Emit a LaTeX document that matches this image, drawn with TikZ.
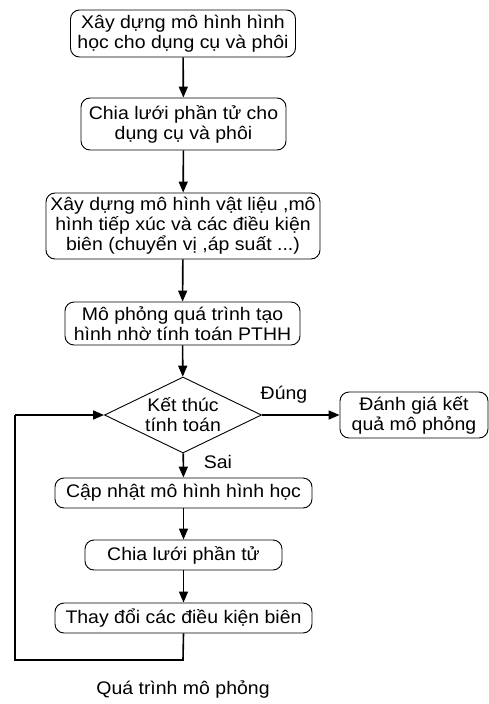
\documentclass[tikz,border=0pt]{standalone}
\usepackage{fontspec}
\setmainfont{Liberation Sans}[FakeStretch=1.07]
\usetikzlibrary{shapes.geometric,arrows.meta}
\begin{document}
\begin{tikzpicture}[x=1pt,y=-1pt,
  every node/.style={font=\fontsize{18.2}{20}\selectfont},
  stepbox/.style={draw,rounded corners=9pt,line width=0.9pt,align=center,inner sep=0pt},
  decision/.style={draw,diamond,line width=0.9pt,align=center,inner sep=0pt,aspect=2.07,minimum width=157pt,minimum height=76pt},
  conn/.style={line width=1.6pt,-{Triangle[length=11pt,width=9pt]}},
  plain/.style={line width=1.6pt}]
\useasboundingbox (0,0) rectangle (489,704);
\node[stepbox,minimum width=225pt,minimum height=47pt] (b1) at (183,33.5) {Xây dựng mô hình hình\\học cho dụng cụ và phôi};
\node[stepbox,minimum width=205pt,minimum height=52pt] (b2) at (183.5,124) {Chia lưới phần tử cho\\dụng cụ và phôi};
\node[stepbox,minimum width=274pt,minimum height=66pt] (b3) at (183,226) {Xây dựng mô hình vật liệu ,mô\\hình tiếp xúc và các điều kiện\\biên (chuyển vị ,áp suất ...)};
\node[stepbox,minimum width=235pt,minimum height=43pt] (b4) at (182.5,323.5) {Mô phỏng quá trình tạo\\hình nhờ tính toán PTHH};
\node[decision] (d) at (183,415) {Kết thúc\\tính toán};
\node[stepbox,minimum width=148pt,minimum height=46pt] (r) at (414,415) {Đánh giá kết\\quả mô phỏng};
\node[stepbox,minimum width=257pt,minimum height=30pt] (b5) at (183.5,493) {Cập nhật mô hình hình học};
\node[stepbox,minimum width=197pt,minimum height=30pt] (b6) at (183.5,555) {Chia lưới phần tử};
\node[stepbox,minimum width=257pt,minimum height=30pt] (b7) at (183.5,618) {Thay đổi các điều kiện biên};
\node (yes) at (284,395) {Đúng};
\node (no) at (218,462) {Sai};
\node (cap) at (183,690) {Quá trình mô phỏng};
\coordinate (c1) at (183,660);
\coordinate (c2) at (15,660);
\coordinate (c3) at (15,415);
\draw[conn] (b1) -- (b2);
\draw[conn] (b2) -- (b3);
\draw[conn] (b3) -- (b4);
\draw[conn] (b4) -- (d);
\draw[conn] (d) -- (r);
\draw[conn] (d) -- (b5);
\draw[conn] (b5) -- (b6);
\draw[conn] (b6) -- (b7);
\draw[plain] (b7.south) -- (c1) -- (c2) -- (c3);
\draw[conn] (c3) -- (d.west);
\end{tikzpicture}
\end{document}
